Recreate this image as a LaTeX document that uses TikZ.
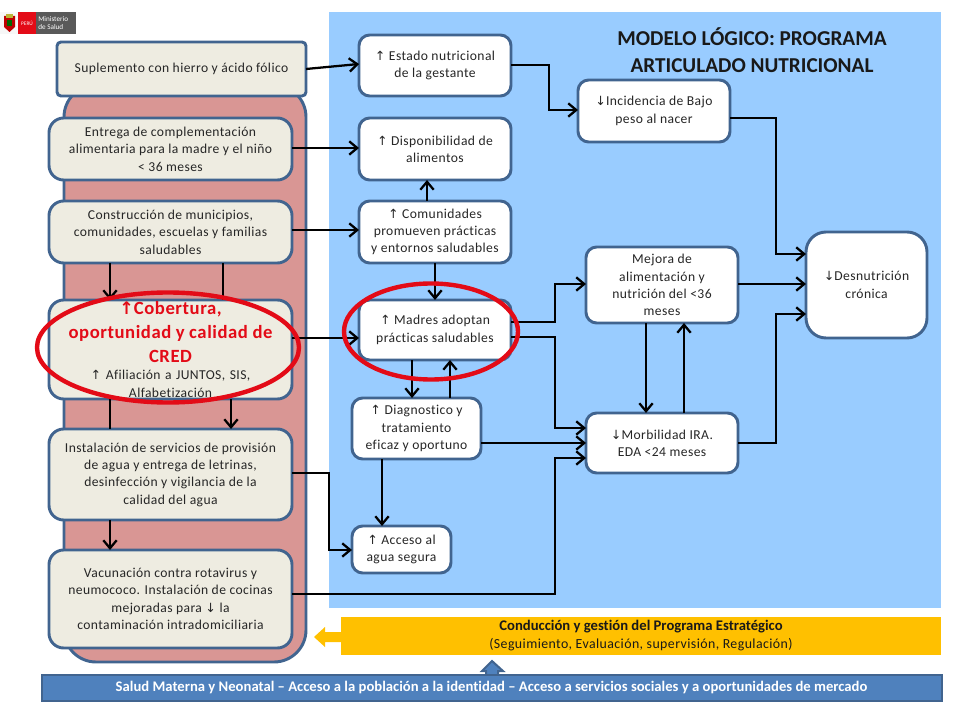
\documentclass[tikz,border=0pt]{standalone}
\usepackage{fontspec}
\usetikzlibrary{arrows.meta,calc}
\setmainfont{Carlito}[LetterSpace=3,RawFeature=-liga]
\newfontfamily\plainf{Carlito}[RawFeature=-liga]
\newfontfamily\dv{DejaVu Sans}
\newcommand{\UPA}{{\dv\fontsize{9.5}{9.5}\selectfont ↑}}
\newcommand{\DNA}{{\dv\fontsize{9.5}{9.5}\selectfont ↓}}
\definecolor{edgeblue}{HTML}{41648F}
\definecolor{cream}{HTML}{EEECE1}
\definecolor{rosebg}{HTML}{D99694}
\definecolor{skybg}{HTML}{99CCFF}
\definecolor{goldbar}{HTML}{FFC000}
\definecolor{barblue}{HTML}{4F81BD}
\definecolor{redmark}{HTML}{E30B17}
\tikzset{
  x=0.75pt,y=-0.75pt,
  boxbase/.style={draw=edgeblue,line width=2.2pt,align=center,inner sep=0pt,outer sep=0pt,font=\fontsize{10.2}{13}\selectfont,text=black!85},
  leftbox/.style={boxbase,fill=cream,rounded corners=11pt},
  rightbox/.style={boxbase,fill=white,rounded corners=8pt},
  conn/.style={draw=black,line width=1.7pt,-{Straight Barb[length=6pt,width=10pt,line width=1.7pt]}},
  plainconn/.style={draw=black,line width=1.7pt},
  markring/.style={draw=redmark,line width=3.3pt,fill=none},
}
\newcommand{\bx}[7]{%
  \pgfmathsetmacro{\bxw}{(#4-#2)*0.75}\pgfmathsetmacro{\bxh}{(#5-#3)*0.75}%
  \node[#6,minimum width=\bxw pt,minimum height=\bxh pt] (#1) at ({(#2+#4)/2},{(#3+#5)/2}) {#7};%
}
\begin{document}
\begin{tikzpicture}
\useasboundingbox (0,0) rectangle (960,720);
% backgrounds
\fill[skybg] (329,12) rectangle (941,608);
\draw[draw=edgeblue,fill=rosebg,line width=2.2pt,rounded corners=24pt] (64,85) rectangle (306,662);
% logo
\fill[black!3] (0,12) rectangle (18,34);
\fill[red!75!black] (4,16) -- (15,16) -- (15,27) -- (9.5,32) -- (4,27) -- cycle;
\fill[yellow!70!black] (6,14) rectangle (13,18);
\fill[green!40!black] (7,20) rectangle (12,26);
\fill[redmark] (18,12) rectangle (36,34);
\fill[black!65] (36,12) rectangle (76,34);
\node[text=white,inner sep=0pt,font=\plainf\fontsize{4}{4}\selectfont] (logoa) at (27,23) {PERÚ};
\node[text=white,inner sep=0pt,align=left,anchor=west,font=\plainf\fontsize{5.4}{5.8}\selectfont] (logob) at (38,23) {Ministerio\\de Salud};
% title
\node[align=center,inner sep=0pt,font=\plainf\fontsize{15.9}{20}\selectfont\bfseries,text=black!90] (title) at (752,50.5) {MODELO LÓGICO: PROGRAMA\\ARTICULADO NUTRICIONAL};
% left
\bx{sa}{57}{42}{306}{96}{boxbase,fill=cream,rounded corners=3pt}{Suplemento con hierro y ácido fólico}
\bx{sb}{49}{118}{292}{180}{leftbox}{Entrega de complementación\\alimentaria para la madre y el niño\\< 36 meses}
\bx{sc}{49}{201}{292}{263}{leftbox}{Construcción de municipios,\\comunidades, escuelas y familias\\saludables}
\bx{sd}{49}{300}{292}{399}{leftbox,text width=176pt}{{\fontsize{14}{18}\selectfont\bfseries\color{redmark}{\dv\fontsize{13}{13}\selectfont ↑}Cobertura,\\oportunidad y calidad de\\CRED\par}\UPA{} Afiliación a JUNTOS, SIS,\\Alfabetización}
\bx{se}{49}{429}{292}{520}{leftbox}{Instalación de servicios de provisión\\de agua y entrega de letrinas,\\desinfección y vigilancia de la\\calidad del agua}
\bx{sf}{49}{550}{292}{648}{leftbox}{Vacunación contra rotavirus y\\neumococo. Instalación de cocinas\\mejoradas para \DNA{} la\\contaminación intradomiciliaria}
% right
\bx{ra}{359}{35}{511}{96}{rightbox}{\UPA{} Estado nutricional\\de la gestante}
\bx{rb}{359}{118}{511}{180}{rightbox}{\UPA{} Disponibilidad de\\alimentos}
\bx{rc}{359}{201}{511}{263}{rightbox}{\UPA{} Comunidades\\promueven prácticas\\y entornos saludables}
\bx{rd}{359}{300}{511}{360}{rightbox}{\UPA{} Madres adoptan\\prácticas saludables}
\bx{re}{352}{398}{481}{459}{rightbox}{\UPA{} Diagnostico y\\tratamiento\\eficaz y oportuno}
\bx{rf}{352}{526}{451}{573}{rightbox}{\UPA{} Acceso al\\agua segura}
\bx{ga}{578}{80}{730}{142}{rightbox}{\DNA{}Incidencia de Bajo\\peso al nacer}
\bx{gb}{586}{247}{738}{323}{rightbox}{Mejora de\\alimentación y\\nutrición del <36\\meses}
\bx{gc}{586}{413}{738}{473}{rightbox}{\DNA{}Morbilidad IRA.\\EDA <24 meses}
\bx{ja}{806}{232}{927}{338}{boxbase,fill=white,rounded corners=15pt}{\DNA{}Desnutrición\\crónica}
% connectors
\draw[conn] (sa.east |- 0,69) -- (ra.west |- 0,64);
\draw[conn] (sb.east |- 0,148) -- (rb.west |- 0,148);
\draw[conn] (sc.east |- 0,230) -- (rc.west |- 0,230);
\draw[conn] (sd.east |- 0,338) -- (rd.west |- 0,338);
\draw[conn] (sc.south -| 110,0) -- (sd.north -| 110,0);
\draw[plainconn] (sc.south -| 223,0) -- (sd.north -| 223,0);
\draw[conn] (sd.south -| 231,0) -- (se.north -| 231,0);
\draw[plainconn] (sd.south -| 110,0) -- (se.north -| 110,0);
\draw[conn] (se.south -| 110,0) -- (sf.north -| 110,0);
\draw[conn] (se.east |- 0,473) -- (329,473) -- (329,550) -- (rf.west |- 0,550);
\draw[conn] (sf.east |- 0,594) -- (555,594) -- (555,458) -- (gc.west |- 0,458);
\draw[conn] (rc.north -| 427,0) -- (rb.south -| 427,0);
\draw[conn] (rc.south -| 435,0) -- (rd.north -| 435,0);
\draw[conn] (rd.east |- 0,322) -- (555,322) -- (555,284) -- (gb.west |- 0,284);
\draw[conn] (rd.east |- 0,337) -- (555,337) -- (555,428) -- (gc.west |- 0,428);
\draw[conn] (rd.south -| 412,0) -- (re.north -| 412,0);
\draw[conn] (re.north -| 450,0) -- (rd.south -| 450,0);
\draw[conn] (re.east |- 0,443) -- (gc.west |- 0,443);
\draw[conn] (re.south -| 382,0) -- (rf.north -| 382,0);
\draw[conn] (ra.east |- 0,65) -- (549,65) -- (549,110) -- (ga.west |- 0,110);
\draw[conn] (ga.east |- 0,118) -- (776,118) -- (776,254) -- (ja.west |- 0,254);
\draw[conn] (gb.east |- 0,284) -- (ja.west |- 0,284);
\draw[conn] (gc.east |- 0,443) -- (776,443) -- (776,314) -- (ja.west |- 0,314);
\draw[conn] (gb.south -| 646,0) -- (gc.north -| 646,0);
\draw[conn] (gc.north -| 684,0) -- (gb.south -| 684,0);
% rings
\draw[markring] (168,347.5) ellipse [x radius=131,y radius=55];
\draw[markring] (431,331.5) ellipse [x radius=87,y radius=48];
% bottom
\fill[goldbar] (314,637) -- (325,627) -- (325,632) -- (341,632) -- (341,642) -- (325,642) -- (325,647) -- cycle;
\node[fill=goldbar,minimum width=450pt,minimum height=28.5pt,inner sep=0pt,outer sep=0pt,align=center,font=\fontsize{10.4}{13.5}\selectfont,text=black!90] (gold) at (641,636) {{\plainf\fontsize{11}{13.5}\selectfont\bfseries Conducción y gestión del Programa Estratégico}\\(Seguimiento, Evaluación, supervisión, Regulación)};
\draw[draw=edgeblue,fill=barblue,line width=1.5pt] (486,675) -- (486,671) -- (482,671) -- (492,661) -- (503,671) -- (498,671) -- (498,675);
\node[fill=barblue,draw=edgeblue,line width=1.5pt,minimum width=675pt,minimum height=19pt,inner sep=0pt,outer sep=0pt,text=white,font=\plainf\fontsize{11}{12}\selectfont\bfseries] (bar) at (491.5,688) {Salud Materna y Neonatal – Acceso a la población a la identidad – Acceso a servicios sociales y a oportunidades de mercado};
\end{tikzpicture}
\end{document}
